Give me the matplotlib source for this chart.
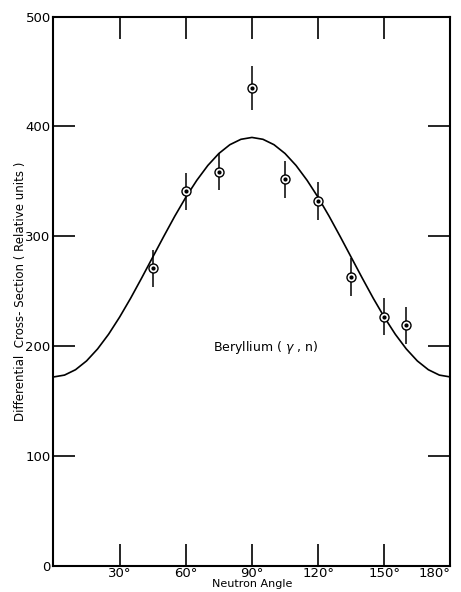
"""Beryllium (gamma, n) angular distribution, redrawn"""

import matplotlib
matplotlib.use('Agg')
import matplotlib.pyplot as plt

# measured points
angles = [45, 60, 75, 90, 105, 120, 135, 150, 160]
cross_section = [271, 341, 359, 435, 352, 332, 263, 227, 219]
errors = [17, 17, 17, 20, 17, 17, 17, 17, 17]

# fitted curve every 5 degrees
curve_angles = [0, 5, 10, 15, 20, 25, 30, 35, 40, 45, 50, 55, 60, 65, 70, 75, 80, 85, 90,
                95, 100, 105, 110, 115, 120, 125, 130, 135, 140, 145, 150, 155, 160, 165,
                170, 175, 180]
curve_values = [172.0, 173.7, 178.6, 186.6, 197.5, 210.9, 226.5, 243.7, 262.1, 281.0,
                299.9, 318.3, 335.5, 351.0, 364.5, 375.4, 383.4, 388.3, 390.0,
                388.3, 383.4, 375.4, 364.5, 351.0, 335.5, 318.3, 299.9, 281.0, 262.1,
                243.7, 226.5, 210.9, 197.5, 186.6, 178.6, 173.7, 172.0]

x_ticks = [30, 60, 90, 120, 150, 180]
x_labels = ['30°', '60°', '90°', '120°', '150°', '180°']
y_ticks = [0, 100, 200, 300, 400, 500]

plt.rcParams['font.family'] = ['DejaVu Sans']

fig = plt.figure(figsize=(4.61, 5.92), dpi=100)
ax = fig.add_axes([0.116, 0.044, 0.861, 0.928])

ax.plot(curve_angles, curve_values, color='black', lw=1.2)
ax.errorbar(angles, cross_section, yerr=errors, fmt='none', ecolor='black', elinewidth=1.1)
ax.plot(angles, cross_section, 'o', ms=6.5, mfc='white', mec='black', mew=1.0)
ax.plot(angles, cross_section, 'o', ms=2, color='black')

ax.set_xlim(0, 180)
ax.set_ylim(0, 500)
ax.set_xticks(x_ticks)
ax.set_xticklabels(x_labels)
ax.set_yticks(y_ticks)
ax.tick_params(direction='in', length=16, width=1.2, top=True, right=True,
               labelsize=9.5, pad=2)
ax.tick_params(axis='x', pad=1)
ax.get_xticklabels()[-1].set_horizontalalignment('right')
for sp in ax.spines.values():
    sp.set_linewidth(1.5)

ax.text(96, 199, r'Beryllium ( $\gamma$ , n)', ha='center', va='center', fontsize=9)
ax.set_xlabel('Neutron Angle', fontsize=8, labelpad=-1)
ax.set_ylabel('Differential  Cross- Section ( Relative units )', fontsize=8.5, labelpad=-1)

fig.savefig('out.png', dpi=100)
